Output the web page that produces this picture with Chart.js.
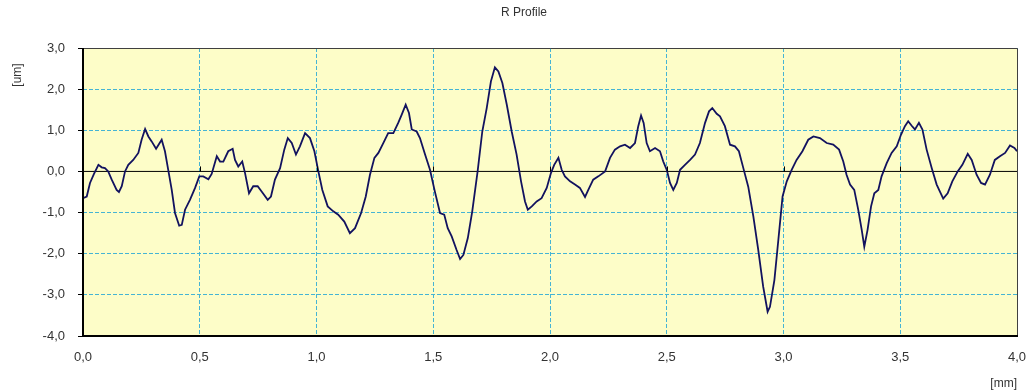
<!DOCTYPE html>
<html>
<head>
<meta charset="utf-8">
<script src="https://cdn.jsdelivr.net/npm/chart.js@4.4.1/dist/chart.umd.min.js"></script>
<style>
  html, body { margin: 0; padding: 0; background: #ffffff; }
  canvas { display: block; }
</style>
</head>
<body>
<canvas id="profile" width="1030" height="391"></canvas>
<script>
// Roughness profile: position along the trace [mm] and deviation [um]
const positionMm = [
  0.000, 0.016, 0.030, 0.047, 0.066, 0.080, 0.094, 0.108, 0.123, 0.144, 0.154, 0.166, 0.180, 0.194, 0.215,
  0.237, 0.251, 0.266, 0.280, 0.294, 0.313, 0.337, 0.351, 0.365, 0.380, 0.394, 0.412, 0.423, 0.437, 0.458,
  0.480, 0.498, 0.515, 0.537, 0.551, 0.573, 0.587, 0.601, 0.622, 0.641, 0.651, 0.665, 0.682, 0.694, 0.711,
  0.729, 0.748, 0.765, 0.791, 0.805, 0.822, 0.844, 0.862, 0.877, 0.894, 0.912, 0.929, 0.951, 0.972, 0.991,
  1.008, 1.025, 1.048, 1.072, 1.093, 1.119, 1.143, 1.165, 1.191, 1.211, 1.229, 1.248, 1.265, 1.286, 1.307,
  1.329, 1.350, 1.365, 1.382, 1.396, 1.408, 1.429, 1.443, 1.465, 1.486, 1.507, 1.529, 1.547, 1.562, 1.579,
  1.600, 1.615, 1.629, 1.648, 1.667, 1.690, 1.710, 1.729, 1.747, 1.764, 1.779, 1.796, 1.815, 1.836, 1.857,
  1.876, 1.893, 1.905, 1.922, 1.943, 1.964, 1.986, 2.004, 2.018, 2.036, 2.050, 2.064, 2.086, 2.107, 2.128,
  2.150, 2.164, 2.185, 2.207, 2.236, 2.257, 2.278, 2.300, 2.321, 2.343, 2.364, 2.378, 2.390, 2.401, 2.414,
  2.428, 2.450, 2.471, 2.485, 2.500, 2.514, 2.528, 2.543, 2.557, 2.578, 2.600, 2.621, 2.642, 2.664, 2.681,
  2.695, 2.714, 2.728, 2.749, 2.771, 2.792, 2.809, 2.828, 2.849, 2.871, 2.892, 2.913, 2.932, 2.942, 2.961,
  2.978, 2.996, 3.014, 3.035, 3.056, 3.081, 3.106, 3.128, 3.156, 3.185, 3.213, 3.238, 3.256, 3.270, 3.285,
  3.303, 3.320, 3.335, 3.346, 3.360, 3.375, 3.389, 3.406, 3.420, 3.442, 3.463, 3.485, 3.503, 3.520, 3.534,
  3.549, 3.563, 3.580, 3.595, 3.613, 3.635, 3.656, 3.684, 3.703, 3.723, 3.746, 3.766, 3.789, 3.806, 3.827,
  3.846, 3.863, 3.884, 3.905, 3.927, 3.949, 3.970, 3.989, 4.000
];
const deviationUm = [
  -0.65, -0.61, -0.28, -0.06, 0.16, 0.10, 0.08, 0.00, -0.20, -0.45, -0.50, -0.36, 0.00, 0.16, 0.28,
  0.45, 0.77, 1.03, 0.85, 0.73, 0.55, 0.77, 0.49, 0.04, -0.45, -1.01, -1.32, -1.30, -0.93, -0.69,
  -0.40, -0.12, -0.12, -0.19, -0.06, 0.37, 0.24, 0.24, 0.49, 0.55, 0.28, 0.12, 0.24, -0.04, -0.53,
  -0.36, -0.36, -0.49, -0.69, -0.61, -0.20, 0.08, 0.53, 0.81, 0.69, 0.41, 0.61, 0.93, 0.81, 0.49,
  0.00, -0.45, -0.85, -0.97, -1.05, -1.22, -1.50, -1.38, -1.01, -0.61, -0.08, 0.33, 0.45, 0.69, 0.93,
  0.93, 1.18, 1.38, 1.62, 1.42, 1.02, 0.97, 0.81, 0.41, 0.04, -0.49, -1.01, -1.05, -1.38, -1.58,
  -1.91, -2.13, -2.03, -1.62, -0.97, 0.00, 0.97, 1.54, 2.19, 2.53, 2.43, 2.15, 1.62, 0.97, 0.41,
  -0.24, -0.73, -0.93, -0.85, -0.73, -0.65, -0.40, -0.04, 0.16, 0.33, 0.04, -0.12, -0.24, -0.32, -0.40,
  -0.62, -0.45, -0.20, -0.12, 0.00, 0.33, 0.53, 0.61, 0.65, 0.57, 0.69, 1.10, 1.36, 1.18, 0.69,
  0.49, 0.57, 0.49, 0.24, 0.04, -0.28, -0.45, -0.28, 0.04, 0.16, 0.28, 0.41, 0.69, 1.18, 1.46,
  1.54, 1.40, 1.34, 1.10, 0.65, 0.61, 0.49, 0.08, -0.37, -1.10, -1.91, -2.80, -3.41, -3.29, -2.64,
  -1.66, -0.61, -0.24, 0.04, 0.28, 0.49, 0.77, 0.85, 0.81, 0.69, 0.65, 0.53, 0.24, -0.08, -0.32,
  -0.45, -0.93, -1.42, -1.83, -1.42, -0.85, -0.53, -0.45, -0.12, 0.20, 0.45, 0.61, 0.89, 1.10, 1.22,
  1.11, 1.02, 1.18, 1.02, 0.53, 0.08, -0.32, -0.66, -0.53, -0.24, 0.00, 0.16, 0.43, 0.28, -0.08,
  -0.28, -0.32, -0.08, 0.28, 0.37, 0.45, 0.63, 0.57, 0.49
];

// Axis ranges and labels
const xRange = [0, 4];
const xStep = 0.5;
const yRange = [-4, 3];
const yStep = 1;
const chartTitle = 'R Profile';
const xAxisTitle = '[mm]';
const yAxisTitle = '[um]';

const FONT = '"Liberation Sans", Arial, sans-serif';
const commaDecimal = v => Number(v).toFixed(1).replace('.', ',');

const profilePoints = positionMm.map((x, i) => ({ x, y: deviationUm[i] }));
const baselinePoints = [{ x: xRange[0], y: 0 }, { x: xRange[1], y: 0 }];

// Pale yellow plot area, frame, title and y-axis caption, small ticks on the zero line
const decorations = {
  id: 'decorations',
  beforeDraw(chart) {
    const { ctx, chartArea: a } = chart;
    ctx.save();
    ctx.fillStyle = '#fdfdc8';
    ctx.fillRect(a.left, a.top, a.right - a.left, a.bottom - a.top);
    ctx.restore();
  },
  afterDatasetsDraw(chart) {
    const { ctx, chartArea: a, scales } = chart;
    ctx.save();
    // zero-line tick marks at each x gridline
    const y0 = scales.y.getPixelForValue(0);
    ctx.strokeStyle = '#000';
    ctx.lineWidth = 1;
    scales.x.ticks.forEach(t => {
      const px = Math.round(scales.x.getPixelForValue(t.value)) + 0.5;
      ctx.beginPath();
      ctx.moveTo(px, y0 - 5);
      ctx.lineTo(px, y0);
      ctx.stroke();
    });
    // frame: thin on top/right, heavier on left/bottom axes
    ctx.strokeStyle = '#404040';
    ctx.lineWidth = 1;
    ctx.beginPath();
    ctx.moveTo(a.left, a.top + 0.5);
    ctx.lineTo(a.right + 0.5, a.top + 0.5);
    ctx.lineTo(a.right + 0.5, a.bottom);
    ctx.stroke();
    ctx.strokeStyle = '#000';
    ctx.lineWidth = 2;
    ctx.beginPath();
    ctx.moveTo(a.left, a.top);
    ctx.lineTo(a.left, a.bottom);
    ctx.lineTo(a.right + 1, a.bottom);
    ctx.stroke();
    ctx.restore();
  },
  afterDraw(chart) {
    const { ctx } = chart;
    ctx.save();
    ctx.fillStyle = '#333';
    ctx.font = '12px ' + FONT;
    ctx.textAlign = 'center';
    ctx.textBaseline = 'middle';
    ctx.fillText(chartTitle, 524, 13);
    ctx.translate(18, 75);
    ctx.rotate(-Math.PI / 2);
    ctx.font = '12px ' + FONT;
    ctx.fillText(yAxisTitle, 0, 0);
    ctx.restore();
  }
};

new Chart(document.getElementById('profile'), {
  type: 'line',
  data: {
    datasets: [
      {
        label: chartTitle,
        data: profilePoints,
        borderColor: '#12125f',
        borderWidth: 1.8,
        pointRadius: 0,
        tension: 0,
        fill: false,
        order: 1
      },
      {
        label: 'baseline',
        data: baselinePoints,
        borderColor: '#000000',
        borderWidth: 1,
        pointRadius: 0,
        fill: false,
        order: 2
      }
    ]
  },
  options: {
    responsive: false,
    animation: false,
    devicePixelRatio: 1,
    layout: { padding: { top: 48, right: 13, left: 0, bottom: 0 } },
    plugins: {
      legend: { display: false },
      title: { display: false },
      tooltip: { enabled: false }
    },
    scales: {
      x: {
        type: 'linear',
        min: xRange[0],
        max: xRange[1],
        afterFit(scale) {
          scale.height = 55;
          scale.paddingLeft = 0;
          scale.paddingRight = 0;
        },
        ticks: {
          stepSize: xStep,
          padding: 14,
          color: '#333',
          font: { family: FONT, size: 13 },
          maxRotation: 0,
          callback: v => commaDecimal(v)
        },
        grid: {
          color: '#45b4d4',
          lineWidth: 1,
          drawTicks: false
        },
        border: { display: false, dash: [4, 2] },
        title: {
          display: true,
          text: xAxisTitle,
          align: 'end',
          color: '#333',
          font: { family: FONT, size: 12 },
          padding: { top: 2, bottom: 0 }
        }
      },
      y: {
        type: 'linear',
        min: yRange[0],
        max: yRange[1],
        afterFit(scale) {
          scale.width = 83;
          scale.paddingTop = 0;
          scale.paddingBottom = 0;
        },
        ticks: {
          stepSize: yStep,
          padding: 13,
          color: '#333',
          font: { family: FONT, size: 13 },
          callback: v => commaDecimal(v)
        },
        grid: {
          color: ctx => (ctx.tick && ctx.tick.value === 0) ? 'rgba(0,0,0,0)' : '#45b4d4',
          lineWidth: 1,
          drawTicks: true,
          tickLength: 5,
          tickColor: '#000',
          tickBorderDash: [],
          tickWidth: 1
        },
        border: { display: false, dash: [4, 2] }
      }
    }
  },
  plugins: [decorations]
});
</script>
</body>
</html>
